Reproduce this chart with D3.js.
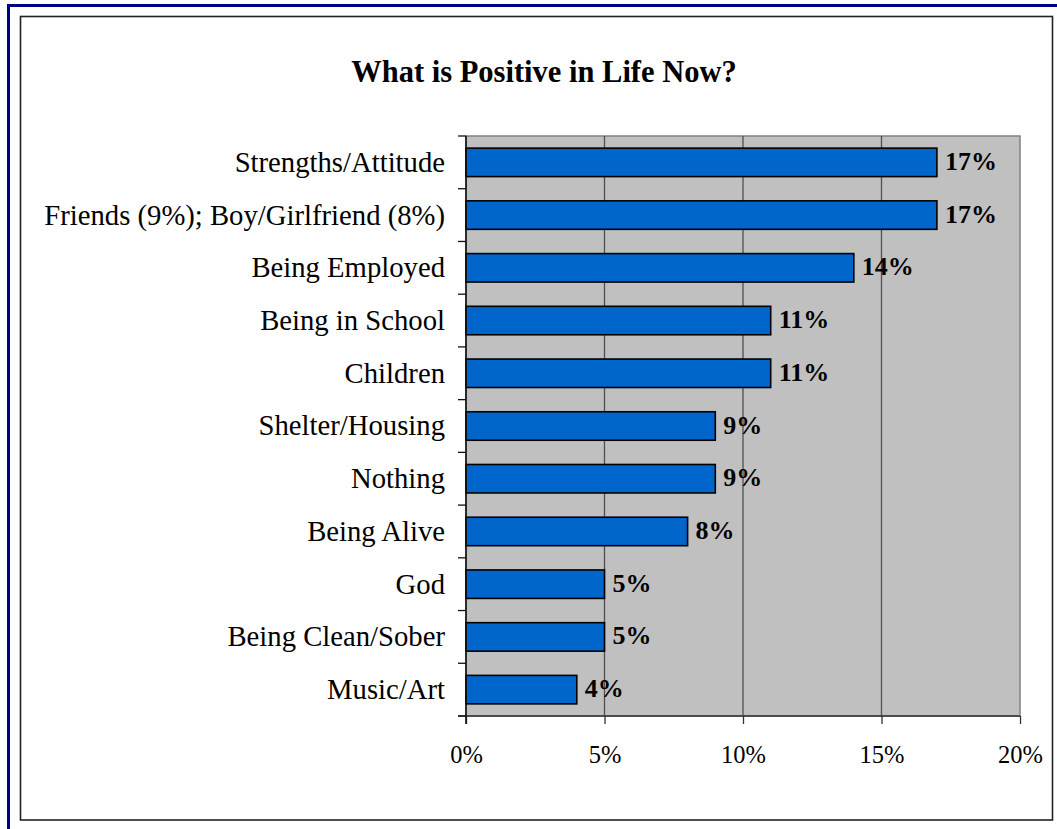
<!DOCTYPE html>
<html>
<head>
<meta charset="utf-8">
<script src="https://cdn.jsdelivr.net/npm/d3@7"></script>
<style>
  html, body { margin: 0; padding: 0; background: #ffffff; }
  svg { display: block; }
  text { font-family: "Liberation Serif", "Times New Roman", serif; fill: #000; }
</style>
</head>
<body>
<svg id="chart" width="1057" height="829"></svg>
<script>
const title = "What is Positive in Life Now?";
const categories = [
  "Strengths/Attitude",
  "Friends (9%); Boy/Girlfriend (8%)",
  "Being Employed",
  "Being in School",
  "Children",
  "Shelter/Housing",
  "Nothing",
  "Being Alive",
  "God",
  "Being Clean/Sober",
  "Music/Art"
];
const values = [17, 17, 14, 11, 11, 9, 9, 8, 5, 5, 4];
const xTicks = [0, 5, 10, 15, 20];

const svg = d3.select("#chart");

// outer navy frame (top and left edges)
svg.append("rect").attr("x", 7).attr("y", 4).attr("width", 1050).attr("height", 3).attr("fill", "#000080");
svg.append("rect").attr("x", 7).attr("y", 4).attr("width", 3).attr("height", 825).attr("fill", "#000080");

// inner chart frame
svg.append("rect").attr("x", 20.5).attr("y", 16.5).attr("width", 1032).attr("height", 803.5)
  .attr("fill", "#fff").attr("stroke", "#222").attr("stroke-width", 1.6);

const plot = { left: 466, right: 1020, top: 136, bottom: 716 };

const x = d3.scaleLinear().domain([0, 20]).range([plot.left, plot.right]);
const y = d3.scaleBand().domain(categories).range([plot.top, plot.bottom])
  .paddingInner(0.46).paddingOuter(0.23);

// plot background
svg.append("rect").attr("x", plot.left).attr("y", plot.top)
  .attr("width", plot.right - plot.left).attr("height", plot.bottom - plot.top)
  .attr("fill", "#c0c0c0").attr("stroke", "#808080").attr("stroke-width", 1.5);

// gridlines
svg.append("g").selectAll("line").data(xTicks.slice(1, -1)).join("line")
  .attr("x1", d => x(d)).attr("x2", d => x(d))
  .attr("y1", plot.top).attr("y2", plot.bottom)
  .attr("stroke", "#505050").attr("stroke-width", 1.3);

// bars
svg.append("g").selectAll("rect").data(values).join("rect")
  .attr("x", x(0))
  .attr("y", (d, i) => y(categories[i]))
  .attr("width", d => x(d) - x(0))
  .attr("height", y.bandwidth())
  .attr("fill", "#0066cc").attr("stroke", "#000").attr("stroke-width", 1.6);

// value labels
svg.append("g").selectAll("text").data(values).join("text")
  .attr("x", d => x(d) + 8)
  .attr("y", (d, i) => y(categories[i]) + y.bandwidth() / 2)
  .attr("dy", "0.29em")
  .attr("font-size", 26).attr("font-weight", "bold")
  .text(d => d + "%");

// x axis
const xAxis = d3.axisBottom(x).tickValues(xTicks).tickSize(8).tickSizeOuter(0)
  .tickFormat(d => d + "%");
const gx = svg.append("g").attr("transform", `translate(0,${plot.bottom})`).call(xAxis);
gx.select(".domain").remove();
gx.selectAll(".tick line").attr("stroke", "#333").attr("stroke-width", 1.3);
gx.selectAll(".tick text").attr("y", 47).attr("dy", 0)
  .attr("font-size", 24.5).attr("font-family", "Liberation Serif, Times New Roman, serif").attr("fill", "#000");
svg.append("line").attr("x1", plot.left - 8).attr("x2", plot.right)
  .attr("y1", plot.bottom).attr("y2", plot.bottom)
  .attr("stroke", "#333").attr("stroke-width", 1.5);

// y axis line and boundary ticks
svg.append("line").attr("x1", plot.left).attr("x2", plot.left)
  .attr("y1", plot.top).attr("y2", plot.bottom + 8)
  .attr("stroke", "#111").attr("stroke-width", 1.6);
const bounds = d3.range(categories.length + 1).map(i => plot.top + i * y.step());
svg.append("g").selectAll("line").data(bounds).join("line")
  .attr("x1", plot.left - 8).attr("x2", plot.left)
  .attr("y1", d => d).attr("y2", d => d)
  .attr("stroke", "#111").attr("stroke-width", 1.3);

// category labels
svg.append("g").selectAll("text").data(categories).join("text")
  .attr("x", 445)
  .attr("y", d => y(d) + y.bandwidth() / 2)
  .attr("dy", "0.33em")
  .attr("text-anchor", "end")
  .attr("font-size", 28.7)
  .text(d => d);

// title
svg.append("text").attr("x", 544).attr("y", 82)
  .attr("text-anchor", "middle").attr("font-size", 30.5).attr("font-weight", "bold")
  .text(title);
</script>
</body>
</html>
